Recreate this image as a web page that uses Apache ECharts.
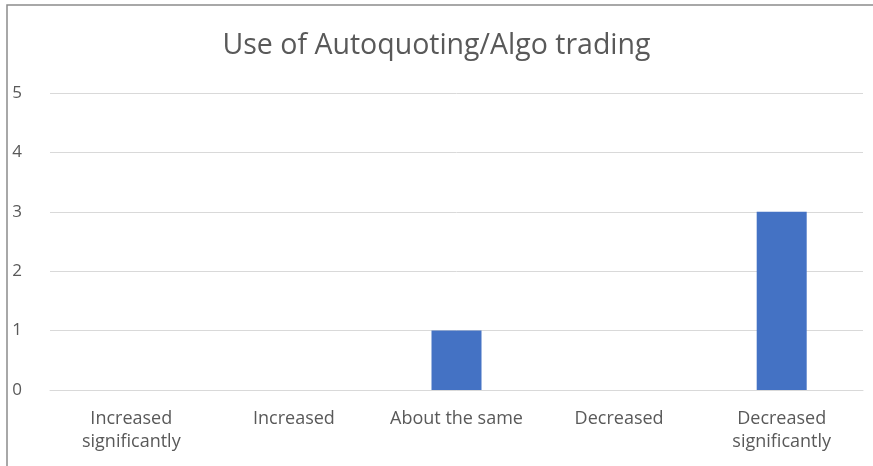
<!DOCTYPE html>
<html>
<head>
<meta charset="utf-8">
<script src="https://cdn.jsdelivr.net/npm/echarts@6/dist/echarts.min.js"></script>
<style>
  html, body { margin: 0; padding: 0; background: #fff; }
  #root { width: 873px; height: 466px; }
</style>
</head>
<body>
<div id="root"></div>
<script>
const categories = [
  "Increased\nsignificantly",
  "Increased",
  "About the same",
  "Decreased",
  "Decreased\nsignificantly"
];
const counts = [0, 0, 1, 0, 3];
const yTicks = [0, 1, 2, 3, 4, 5];

const chart = echarts.init(document.getElementById("root"));
const font = "'Open Sans', sans-serif";

chart.setOption({
  animation: false,
  title: {
    text: "Use of Autoquoting/Algo trading",
    left: "center",
    top: 26,
    textStyle: { fontFamily: font, fontSize: 28.5, fontWeight: "normal", color: "#595959" }
  },
  // outer frame of the chart area
  graphic: [{
    type: "rect",
    shape: { x: 7, y: 5, width: 1000, height: 1000 },
    style: { fill: "none", stroke: "#8c8c8c", lineWidth: 1.5 }
  }],
  grid: { left: 50, right: 10, top: 93, bottom: 76 },
  xAxis: {
    type: "category",
    data: categories,
    axisLine: { show: true, lineStyle: { color: "#d9d9d9" } },
    axisTick: { show: false },
    axisLabel: {
      margin: 17,
      fontFamily: font,
      fontSize: 18,
      lineHeight: 23,
      color: "#595959",
      interval: 0
    }
  },
  yAxis: {
    type: "value",
    min: yTicks[0],
    max: yTicks[yTicks.length - 1],
    interval: 1,
    axisLine: { show: false },
    axisTick: { show: false },
    splitLine: { lineStyle: { color: "#d9d9d9", width: 1 } },
    axisLabel: { margin: 28, fontFamily: font, fontSize: 17, color: "#595959" }
  },
  series: [{
    type: "bar",
    data: counts,
    barWidth: 50,
    itemStyle: { color: "#4472c4" }
  }]
});
</script>
</body>
</html>
